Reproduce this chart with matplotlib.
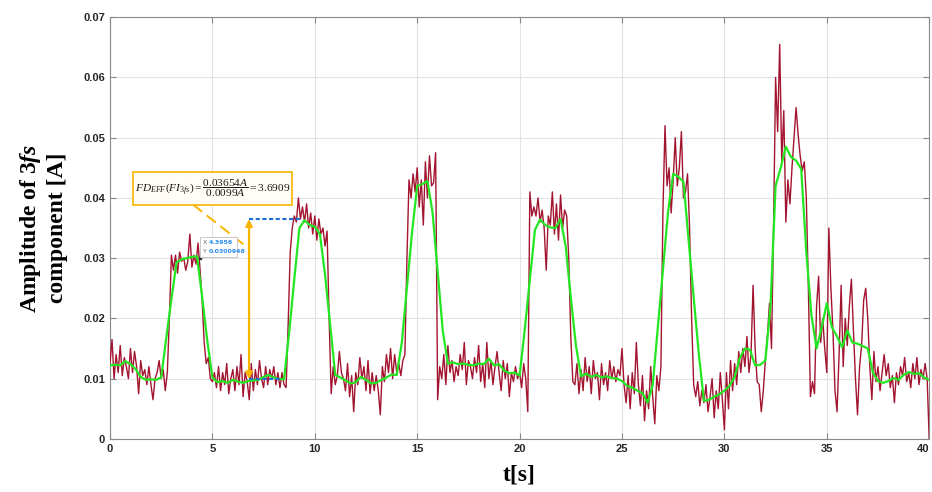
import numpy as np
import matplotlib
matplotlib.use('Agg')
import matplotlib.pyplot as plt
from matplotlib.patches import Rectangle

plt.rcParams['mathtext.fontset'] = 'custom'
plt.rcParams['mathtext.rm'] = 'Liberation Serif'
plt.rcParams['mathtext.it'] = 'Liberation Serif:italic'
plt.rcParams['mathtext.bf'] = 'Liberation Serif:bold'
plt.rcParams['mathtext.bfit'] = 'Liberation Serif:italic:bold'

# raw amplitude of the 3fs component, one value every 0.1 s (in mA)
t_raw = np.arange(0, 40.01, 0.1)
raw_mA = [
    12.5, 16.5, 10, 14, 11, 15.5, 10.5, 13.5, 12, 10,
    15, 11, 14.5, 12, 7.5, 13, 10.5, 11.5, 9, 12,
    9, 6.5, 10, 11, 13, 10, 11.5, 8, 11, 20,
    30.5, 28, 30.5, 27.5, 31, 29.5, 30, 28, 29.5, 34,
    28.5, 30.5, 29, 32.5, 28, 23, 16, 12.5, 13.5, 10,
    9.5, 11, 8.5, 12, 8, 11, 9, 12.5, 7.5, 10,
    11.5, 8, 12, 9, 14, 7, 11, 9.5, 6.5, 12.5,
    8, 11.5, 9, 13, 10, 8.5, 12, 9, 11.5, 10,
    12, 9, 11, 8.5, 11, 9, 8.5, 19, 31, 35,
    37, 36, 40, 36.5, 38.5, 36, 39, 35, 37.5, 34,
    37, 33, 36.5, 34, 35, 32, 34.5, 20, 7.5, 12,
    9, 10.5, 14.5, 11, 10, 8, 12.5, 7, 10.5, 4.5,
    11, 9, 13.5, 10, 12, 8, 13, 7.5, 11, 8,
    10.5, 8, 4, 12, 9.5, 14, 11, 15, 10, 14,
    11, 12.5, 10.5, 13, 14, 30, 43, 40, 44, 41,
    45, 38.5, 43, 35.5, 46, 40, 47, 42, 42.5, 47.5,
    6.5, 12, 10, 14, 9, 15.5, 11, 13, 9.5, 12,
    10.5, 14, 11.5, 16, 9, 13, 12, 10, 13.5, 11,
    15.5, 9.5, 12.5, 8.5, 16, 10, 13, 9, 12, 14.5,
    11, 8, 13, 10, 12.5, 7, 11, 9.5, 12, 10,
    11, 8.5, 12.5, 10, 4.5, 41, 37, 38.5, 37, 40,
    36, 38, 35, 28, 37, 35.5, 41, 34, 39, 33,
    40.5, 35, 38, 37, 30, 17, 9.5, 9, 12.5, 7.5,
    11.5, 8, 13.5, 9.5, 12, 7.5, 13, 10, 11, 6.5,
    12.5, 9, 11, 8, 13, 10, 12, 9.5, 11.5, 10.5,
    15, 9, 6, 10.5, 5, 11, 7.5, 16, 9, 5.5,
    10.5, 3, 8, 5, 12, 7, 2.5, 10.5, 8, 12,
    38, 52, 42, 45, 37.5, 43, 50, 42, 45, 51,
    40, 41, 44, 35, 20, 9, 7, 9.5, 5.5, 8,
    6, 9, 4.5, 7, 10, 3.5, 8, 5, 11, 6.5,
    1.5, 11, 5, 13, 8, 12.5, 9, 14.5, 11, 15,
    12, 17, 11, 14, 25.5, 15, 9.5, 9, 4.5, 8,
    13, 17, 22.5, 15, 35, 60, 51, 65.5, 46, 54.5,
    36, 43, 39, 45, 50, 55, 50.5, 47, 44.5, 46,
    40, 25, 7, 9.5, 7.5, 22, 27, 16, 20, 15,
    11, 35, 25, 18, 8, 4.5, 14, 25.5, 12, 20,
    15.5, 22, 26.5, 18, 10, 4, 12, 15.5, 23, 25,
    20, 12, 6.5, 14.5, 9.5, 12, 8, 11, 14, 10.5,
    12.5, 8.5, 10.5, 6, 11, 9, 12, 10.5, 13.5, 9.5,
    11, 8.5, 12.5, 10, 13.5, 9, 11.5, 10, 12.5, 10,
    0,
]

# filtered curve, one value every 0.25 s (in mA)
t_filt = np.arange(0, 40.01, 0.25)
filt_mA = [
    12.2, 12.3, 12.2, 12.9,
    12.4, 11.6, 10.3, 9.8,
    9.9, 9.8, 10.2, 16.8,
    23.2, 29.3, 29.8, 30.0,
    30.2, 30.3, 23.6, 16.3,
    10.2, 9.4, 9.6, 9.3,
    9.8, 9.5, 9.3, 9.6,
    9.7, 9.8, 10.3, 10.6,
    10.2, 9.9, 9.9, 17.7,
    26.5, 35.0, 36.3, 35.5,
    35.2, 34.0, 27.3, 18.9,
    10.6, 10.2, 9.7, 9.2,
    9.4, 10.3, 9.8, 9.2,
    9.3, 9.8, 10.2, 10.7,
    10.6, 16.0, 25.2, 34.3,
    42.0, 42.3, 42.8, 37.6,
    27.7, 17.9, 12.5, 12.7,
    12.4, 12.5, 12.3, 12.2,
    12.5, 12.4, 13.3, 12.2,
    12.4, 11.3, 10.9, 11.0,
    10.5, 18.1, 26.4, 34.7,
    36.4, 35.5, 35.1, 35.0,
    36.5, 32.0, 23.5, 15.5,
    10.4, 10.8, 10.3, 10.6,
    10.2, 10.4, 10.1, 10.0,
    9.6, 8.8, 8.5, 8.0,
    7.6, 6.0, 8.9, 18.5,
    28.1, 37.7, 44.0, 43.5,
    42.7, 33.0, 23.5, 14.1,
    6.3, 6.5, 7.0, 7.4,
    8.0, 8.8, 10.3, 13.4,
    15.0, 14.8, 12.2, 12.3,
    13.0, 22.0, 42.0, 45.0,
    48.5, 46.8, 46.2, 44.8,
    31.0, 20.5, 15.0, 18.5,
    22.5, 18.5, 17.0, 15.2,
    18.0, 16.0, 15.8, 15.4,
    15.0, 11.0, 9.6, 9.3,
    9.6, 10.1, 9.8, 10.6,
    11.1, 10.8, 10.9, 10.2,
    9.8,
]

raw = np.array(raw_mA) / 1000
filt = np.array(filt_mA) / 1000

# measurement markers
t_meas = 6.79
high_val = 0.03654
low_val = 0.0099
tip_x, tip_y = 4.3956, 0.0300948

fig = plt.figure(figsize=(9.32, 4.92), dpi=100)
ax = fig.add_axes([0.118, 0.108, 0.879, 0.857])

ax.plot(t_raw, raw, color='#A2142F', lw=1.0, zorder=3)
ax.plot(t_filt, filt, color='#22E622', lw=1.6, zorder=4)

ax.set_xlim(0, 40)
ax.set_ylim(0, 0.07)
ax.set_xticks(np.arange(0, 41, 5))
ax.set_yticks(np.arange(0, 0.071, 0.01))
ax.set_yticklabels(['0', '0.01', '0.02', '0.03', '0.04', '0.05', '0.06', '0.07'])
ax.grid(True, color='#e3e3e3', lw=0.8, zorder=0)
ax.tick_params(direction='in', length=4, width=0.8, colors='#8a8a8a',
               labelcolor='#262626', labelsize=8, right=True, top=True)
for lab in ax.get_xticklabels() + ax.get_yticklabels():
    lab.set_fontweight('bold')
    lab.set_family('Liberation Sans')
ax.get_xticklabels()[-1].set_horizontalalignment('right')
for s in ax.spines.values():
    s.set_color('#8a8a8a')
    s.set_linewidth(0.8)

ax.set_xlabel('t[s]', fontsize=17, fontweight='bold', family='Liberation Serif', labelpad=8)
ax.set_ylabel('Amplitude of 3$\\mathbfit{fs}$\ncomponent [A]', fontsize=17,
              fontweight='bold', family='Liberation Serif', labelpad=11, linespacing=1.25)

# blue reference lines
ax.plot([t_meas, 9.3], [high_val, high_val], color='#1f6fd0', ls=(0, (2, 1.2)), lw=1.5, zorder=5)
ax.plot([t_meas, 8.4], [low_val, low_val], color='#1f6fd0', ls=(0, (2, 1.2)), lw=1.5, zorder=5)

# orange double arrow
ax.annotate('', xy=(t_meas, 0.0365), xytext=(t_meas, 0.0099),
            arrowprops=dict(arrowstyle='<|-|>', color='#F7B500', lw=1.6,
                            mutation_scale=10, shrinkA=0, shrinkB=0), zorder=6)
# dashed leader line from annotation box
ax.plot([4.05, 6.74], [0.0389, 0.0317], color='#F7B500', ls=(0, (6, 3)), lw=1.4, zorder=6)

# annotation box with the ratio
ax.add_patch(Rectangle((1.12, 0.0388), 7.77, 0.0055, fc='#fffdf5', ec='#F7B500', lw=1.2, zorder=8))
ax.text(5.0, 0.04155,
        r'$FD_{EFF}(FI_{3fs})=\dfrac{0.03654A}{0.0099A}=3.6909$',
        fontsize=8.2, color='#1a1a1a', ha='center', va='center', zorder=9)

# data tip
ax.plot([tip_x], [tip_y], marker='s', ms=2, color='#333333', zorder=7)
ax.add_patch(Rectangle((4.40, 0.0302), 1.8, 0.0033, fc='white', ec='#c8c8c8', lw=0.7, zorder=9))
ax.text(4.55, 0.03255, 'X', fontsize=4.5, color='#666666', ha='left', va='center', zorder=10)
ax.text(4.82, 0.03255, '4.3956', fontsize=4.5, color='#2a8cf0', ha='left', va='center',
        fontweight='bold', zorder=10)
ax.text(4.55, 0.03115, 'Y', fontsize=4.5, color='#666666', ha='left', va='center', zorder=10)
ax.text(4.82, 0.03115, '0.0300948', fontsize=4.5, color='#2a8cf0', ha='left', va='center',
        fontweight='bold', zorder=10)

fig.savefig('out.png', dpi=100)
